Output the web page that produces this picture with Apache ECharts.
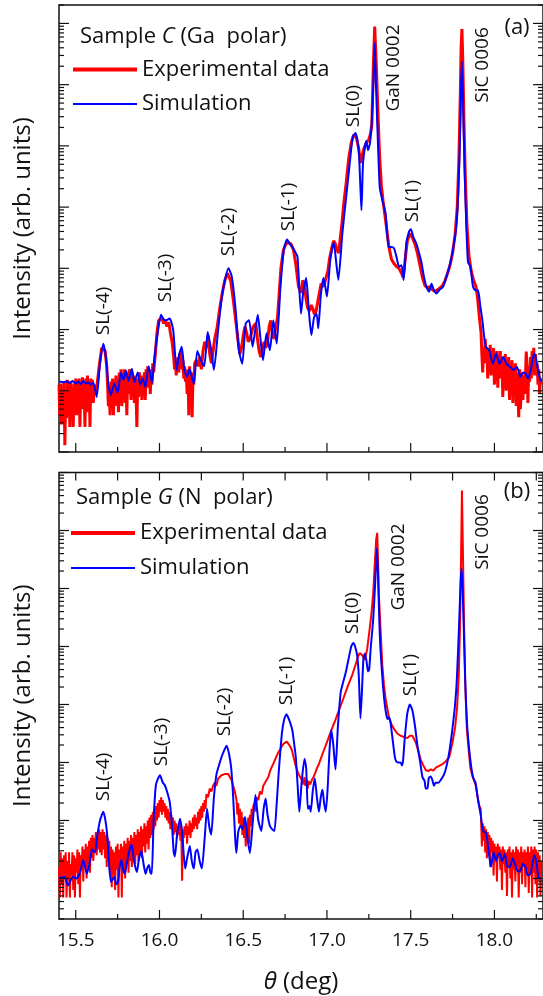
<!DOCTYPE html>
<html><head><meta charset="utf-8">
<script src="https://cdn.jsdelivr.net/npm/echarts@6/dist/echarts.min.js"></script>
<style>html,body{margin:0;padding:0;background:#fff}#c{width:543px;height:996px}</style>
</head><body><div id="c"></div>
<script>
// ---------------- DATA ----------------
// x tick labels (theta, deg)
const xTickLabels = [15.5, 16.0, 16.5, 17.0, 17.5, 18.0];
const seriesNames = ['Experimental data', 'Simulation'];
// each point: [theta (deg), log10(intensity, arb. units)]
// Panel (a): sample C (Ga polar)
const expA = [[15.400,1.10],[15.405,0.60],[15.41,1.12],[15.415,0.45],[15.42,1.00],[15.425,0.70],[15.43,1.15],[15.435,0.11],[15.44,0.95],[15.445,0.55],[15.45,1.18],[15.455,0.80],[15.46,1.05],[15.465,0.41],[15.47,1.15],[15.475,0.75],[15.48,1.00],[15.485,0.41],[15.49,1.12],[15.495,0.90],[15.50,1.20],[15.505,0.60],[15.51,1.05],[15.515,0.95],[15.52,1.20],[15.525,0.41],[15.53,1.10],[15.535,0.85],[15.54,1.22],[15.545,0.70],[15.55,1.05],[15.555,0.41],[15.56,1.20],[15.565,0.90],[15.57,1.25],[15.575,0.65],[15.58,1.15],[15.585,0.41],[15.59,1.20],[15.595,0.95],[15.60,1.18],[15.605,0.80],[15.61,1.10],[15.615,0.95],[15.625,1.05],[15.64,1.40],[15.655,1.70],[15.665,1.72],[15.675,1.65],[15.685,1.40],[15.69,1.10],[15.695,0.75],[15.70,1.00],[15.705,0.60],[15.71,1.15],[15.715,0.85],[15.72,1.20],[15.725,0.60],[15.73,1.10],[15.735,0.75],[15.74,1.25],[15.745,0.85],[15.75,1.15],[15.755,0.65],[15.76,1.30],[15.765,0.90],[15.77,1.35],[15.775,0.75],[15.78,1.20],[15.785,0.95],[15.79,1.35],[15.795,0.80],[15.80,1.25],[15.805,0.60],[15.81,1.30],[15.815,0.95],[15.82,1.35],[15.825,1.30],[15.83,0.85],[15.835,1.30],[15.84,1.00],[15.845,1.25],[15.85,0.80],[15.855,1.20],[15.86,0.95],[15.865,0.41],[15.87,1.20],[15.875,0.90],[15.88,1.30],[15.885,0.95],[15.89,1.25],[15.895,0.85],[15.90,1.20],[15.905,1.00],[15.91,1.30],[15.915,0.85],[15.92,1.35],[15.925,1.05],[15.93,1.40],[15.935,1.10],[15.94,1.35],[15.945,0.95],[15.95,1.30],[15.955,1.10],[15.96,1.45],[15.965,1.30],[15.975,1.60],[15.985,1.95],[15.995,2.15],[16.005,2.12],[16.015,2.18],[16.025,2.10],[16.035,2.15],[16.045,2.05],[16.055,2.12],[16.065,1.95],[16.075,1.80],[16.085,1.55],[16.09,1.35],[16.095,1.50],[16.10,1.25],[16.105,1.45],[16.11,1.55],[16.115,1.30],[16.12,1.60],[16.125,1.45],[16.13,1.65],[16.135,1.35],[16.14,1.50],[16.145,1.20],[16.15,1.40],[16.155,1.15],[16.16,1.30],[16.165,0.95],[16.17,1.35],[16.175,0.60],[16.18,1.40],[16.185,0.85],[16.19,1.30],[16.195,0.57],[16.20,1.25],[16.205,1.10],[16.21,1.45],[16.22,1.50],[16.23,1.40],[16.24,1.55],[16.25,1.35],[16.26,1.65],[16.27,1.80],[16.28,1.70],[16.29,1.90],[16.30,1.60],[16.31,1.45],[16.32,1.65],[16.33,1.85],[16.345,2.05],[16.36,2.35],[16.375,2.60],[16.39,2.80],[16.405,2.92],[16.415,2.92],[16.425,2.80],[16.44,2.50],[16.455,2.15],[16.47,1.80],[16.48,1.60],[16.49,1.70],[16.50,1.90],[16.51,2.05],[16.52,1.95],[16.53,1.80],[16.54,1.85],[16.55,1.95],[16.56,2.05],[16.575,2.10],[16.585,1.85],[16.595,1.65],[16.605,1.55],[16.615,1.70],[16.625,1.80],[16.635,1.70],[16.645,1.80],[16.655,2.05],[16.665,2.15],[16.675,1.90],[16.685,1.85],[16.695,2.05],[16.705,2.20],[16.715,2.60],[16.725,3.00],[16.74,3.30],[16.755,3.40],[16.77,3.42],[16.785,3.40],[16.80,3.30],[16.815,3.05],[16.83,2.70],[16.845,2.60],[16.855,2.80],[16.865,2.75],[16.875,2.50],[16.885,2.35],[16.895,2.30],[16.905,2.40],[16.915,2.35],[16.925,2.25],[16.935,2.30],[16.945,2.45],[16.955,2.60],[16.965,2.75],[16.975,2.70],[16.985,2.75],[16.995,2.85],[17.005,2.95],[17.015,3.15],[17.03,3.35],[17.04,3.45],[17.05,3.40],[17.06,3.30],[17.07,3.25],[17.08,3.50],[17.09,3.75],[17.10,4.05],[17.115,4.40],[17.13,4.80],[17.145,5.05],[17.16,5.18],[17.175,5.15],[17.19,4.95],[17.20,4.72],[17.21,4.75],[17.22,4.95],[17.235,5.05],[17.25,5.10],[17.26,5.20],[17.268,5.35],[17.277,6.30],[17.285,6.95],[17.295,6.30],[17.305,5.50],[17.315,4.80],[17.325,4.35],[17.335,4.10],[17.355,3.68],[17.37,3.35],[17.385,3.15],[17.40,3.08],[17.415,3.03],[17.43,3.00],[17.445,2.92],[17.455,2.85],[17.465,3.10],[17.48,3.45],[17.495,3.57],[17.51,3.50],[17.525,3.40],[17.54,3.25],[17.555,3.05],[17.57,2.85],[17.585,2.72],[17.60,2.68],[17.615,2.70],[17.63,2.65],[17.645,2.62],[17.66,2.65],[17.675,2.68],[17.69,2.72],[17.705,2.80],[17.72,2.92],[17.735,3.05],[17.75,3.25],[17.765,3.55],[17.778,4.00],[17.788,4.80],[17.796,5.80],[17.801,6.60],[17.806,6.91],[17.811,6.40],[17.818,5.40],[17.826,4.50],[17.836,3.70],[17.848,3.20],[17.862,2.95],[17.876,2.80],[17.89,2.70],[17.90,2.50],[17.91,2.20],[17.92,1.95],[17.925,1.60],[17.93,1.30],[17.935,1.70],[17.94,1.45],[17.945,1.85],[17.95,1.50],[17.955,1.70],[17.96,1.20],[17.965,1.65],[17.97,1.35],[17.975,1.75],[17.98,1.25],[17.985,1.60],[17.99,1.40],[17.995,1.70],[18.00,1.10],[18.005,1.55],[18.01,1.30],[18.015,1.65],[18.02,1.05],[18.025,1.50],[18.03,1.35],[18.035,1.65],[18.04,1.20],[18.045,1.55],[18.05,0.90],[18.055,1.50],[18.06,1.25],[18.065,1.60],[18.07,1.00],[18.075,1.45],[18.08,1.20],[18.085,1.55],[18.09,0.85],[18.095,1.40],[18.10,1.15],[18.105,1.50],[18.11,0.80],[18.115,1.35],[18.12,1.10],[18.125,1.45],[18.13,0.75],[18.135,1.30],[18.14,1.05],[18.145,0.57],[18.15,1.35],[18.155,0.70],[18.16,1.00],[18.165,1.30],[18.17,0.85],[18.175,1.25],[18.18,0.95],[18.185,1.20],[18.19,1.64],[18.195,1.35],[18.20,0.80],[18.205,1.40],[18.21,1.15],[18.215,1.55],[18.22,1.20],[18.225,1.65],[18.23,1.30],[18.235,1.70],[18.24,1.25],[18.245,1.60],[18.25,1.30],[18.255,1.45],[18.26,1.10],[18.265,1.35],[18.27,0.95],[18.275,1.20],[18.28,1.10]];
const simA = [[15.403,1.15],[15.425,1.14],[15.445,1.15],[15.465,1.13],[15.48,1.16],[15.50,1.12],[15.515,1.15],[15.53,1.11],[15.545,1.16],[15.56,1.12],[15.575,1.14],[15.59,1.10],[15.605,1.13],[15.625,0.90],[15.645,1.45],[15.665,1.77],[15.68,1.55],[15.695,1.10],[15.71,0.93],[15.73,1.12],[15.75,0.97],[15.77,1.30],[15.785,1.18],[15.80,1.33],[15.815,1.16],[15.835,1.36],[15.85,1.14],[15.87,1.30],[15.885,1.10],[15.90,1.20],[15.915,1.06],[15.935,1.40],[15.955,1.13],[15.97,1.55],[15.989,1.94],[16.009,2.24],[16.025,2.17],[16.040,2.15],[16.061,2.18],[16.082,1.99],[16.102,1.34],[16.118,1.60],[16.133,1.72],[16.148,1.35],[16.164,1.23],[16.18,1.35],[16.195,1.20],[16.205,1.12],[16.226,1.65],[16.247,1.50],[16.267,1.40],[16.288,1.96],[16.309,1.66],[16.325,1.34],[16.350,1.99],[16.370,2.48],[16.391,2.81],[16.412,3.00],[16.432,2.86],[16.453,2.37],[16.474,1.66],[16.494,1.44],[16.515,2.10],[16.535,2.15],[16.556,1.72],[16.572,2.00],[16.587,2.24],[16.603,1.85],[16.618,1.50],[16.639,1.94],[16.659,1.66],[16.680,2.15],[16.700,1.77],[16.721,2.64],[16.742,3.30],[16.762,3.47],[16.778,3.40],[16.793,3.35],[16.808,3.28],[16.824,3.19],[16.845,2.26],[16.860,2.65],[16.876,2.84],[16.892,2.30],[16.907,1.91],[16.923,2.20],[16.938,2.26],[16.948,2.02],[16.963,2.55],[16.979,2.84],[16.990,2.70],[17.000,2.54],[17.020,3.14],[17.041,3.42],[17.055,3.10],[17.068,2.81],[17.092,3.57],[17.113,4.12],[17.134,4.66],[17.154,5.15],[17.171,5.21],[17.181,5.10],[17.191,4.88],[17.200,4.30],[17.206,3.95],[17.215,4.70],[17.227,4.99],[17.235,5.08],[17.245,4.93],[17.257,5.05],[17.268,5.40],[17.278,6.10],[17.285,6.68],[17.292,6.05],[17.300,5.40],[17.315,4.33],[17.330,4.12],[17.350,3.90],[17.368,3.35],[17.385,3.35],[17.400,3.33],[17.415,3.19],[17.430,3.03],[17.445,3.05],[17.458,2.81],[17.474,3.41],[17.490,3.60],[17.501,3.64],[17.515,3.52],[17.534,3.40],[17.550,3.25],[17.564,3.10],[17.580,2.85],[17.594,2.70],[17.610,2.62],[17.624,2.75],[17.638,2.65],[17.654,2.59],[17.672,2.65],[17.693,2.70],[17.712,2.85],[17.733,3.05],[17.752,3.30],[17.773,3.70],[17.785,4.30],[17.795,5.20],[17.801,6.00],[17.806,6.38],[17.812,5.80],[17.822,4.60],[17.832,3.70],[17.842,3.10],[17.856,3.03],[17.872,2.70],[17.887,2.64],[17.902,2.64],[17.915,2.40],[17.928,2.15],[17.940,1.85],[17.948,1.72],[17.969,1.66],[17.990,1.44],[18.010,1.61],[18.031,1.44],[18.052,1.55],[18.072,1.44],[18.093,1.39],[18.113,1.34],[18.134,1.39],[18.155,1.23],[18.170,1.30],[18.186,1.28],[18.200,1.20],[18.217,1.34],[18.237,1.61],[18.250,1.50],[18.262,1.30],[18.278,1.15]];
// Panel (b): sample G (N polar)
const expB = [[15.400,1.20],[15.405,0.67],[15.41,1.45],[15.415,0.90],[15.42,1.35],[15.425,0.67],[15.43,1.40],[15.435,1.00],[15.44,1.45],[15.445,0.67],[15.45,1.30],[15.455,0.95],[15.46,1.45],[15.465,0.67],[15.47,1.25],[15.475,1.05],[15.48,1.45],[15.485,0.80],[15.49,1.40],[15.495,0.67],[15.50,1.35],[15.505,1.10],[15.51,1.50],[15.515,0.90],[15.52,1.45],[15.525,0.67],[15.53,1.40],[15.535,1.15],[15.54,1.55],[15.545,0.95],[15.55,1.50],[15.555,1.20],[15.56,1.60],[15.565,1.00],[15.57,1.55],[15.575,1.25],[15.58,1.65],[15.585,1.10],[15.59,1.70],[15.595,1.35],[15.60,1.75],[15.605,1.30],[15.61,1.70],[15.615,1.45],[15.62,1.80],[15.625,1.40],[15.63,1.75],[15.635,1.50],[15.64,1.85],[15.645,1.45],[15.65,1.80],[15.655,1.40],[15.66,1.85],[15.665,1.50],[15.67,1.80],[15.675,1.35],[15.68,1.75],[15.685,1.20],[15.69,1.70],[15.695,1.30],[15.70,1.65],[15.705,1.10],[15.71,1.55],[15.715,0.85],[15.72,1.50],[15.725,1.05],[15.73,1.45],[15.735,0.80],[15.74,1.55],[15.745,1.15],[15.75,1.60],[15.755,0.67],[15.76,1.50],[15.765,1.20],[15.77,1.60],[15.775,0.67],[15.78,1.55],[15.785,1.15],[15.79,1.65],[15.795,1.00],[15.80,1.60],[15.805,1.25],[15.81,1.70],[15.815,1.10],[15.82,1.65],[15.825,1.30],[15.83,1.75],[15.835,1.20],[15.84,1.70],[15.845,1.35],[15.85,1.80],[15.855,1.25],[15.86,1.75],[15.865,1.40],[15.87,1.85],[15.875,1.30],[15.88,1.80],[15.885,1.45],[15.89,1.90],[15.895,1.35],[15.90,1.85],[15.905,1.55],[15.91,1.95],[15.915,1.45],[15.92,1.90],[15.925,1.60],[15.93,2.00],[15.935,1.50],[15.94,2.05],[15.945,1.70],[15.95,2.10],[15.955,1.75],[15.96,2.15],[15.965,1.85],[15.97,2.20],[15.975,1.90],[15.98,2.25],[15.985,2.00],[15.99,2.30],[15.995,2.05],[16.00,2.35],[16.005,2.15],[16.01,2.40],[16.015,2.10],[16.02,2.35],[16.025,2.15],[16.03,2.30],[16.035,2.05],[16.04,2.25],[16.045,2.00],[16.05,2.20],[16.055,1.95],[16.06,2.15],[16.065,1.85],[16.07,2.10],[16.075,1.90],[16.08,2.05],[16.085,1.75],[16.09,2.00],[16.095,1.80],[16.10,1.95],[16.105,1.70],[16.11,1.90],[16.115,1.75],[16.12,1.95],[16.125,1.65],[16.13,1.90],[16.135,0.96],[16.14,1.85],[16.145,1.70],[16.15,1.90],[16.155,1.75],[16.16,1.95],[16.165,1.60],[16.17,1.90],[16.175,1.75],[16.18,2.00],[16.185,1.70],[16.19,1.95],[16.195,1.80],[16.20,2.05],[16.205,1.85],[16.21,2.10],[16.215,1.90],[16.22,2.05],[16.225,1.85],[16.23,2.15],[16.235,1.95],[16.24,2.20],[16.245,2.00],[16.25,2.25],[16.255,2.05],[16.26,2.30],[16.265,2.15],[16.27,2.35],[16.275,2.20],[16.28,2.45],[16.29,2.40],[16.30,2.55],[16.31,2.50],[16.32,2.60],[16.33,2.65],[16.34,2.60],[16.35,2.72],[16.36,2.70],[16.37,2.78],[16.38,2.75],[16.39,2.80],[16.40,2.78],[16.41,2.80],[16.42,2.75],[16.43,2.70],[16.44,2.60],[16.45,2.50],[16.46,2.35],[16.465,2.10],[16.47,2.30],[16.475,1.95],[16.48,2.20],[16.485,1.90],[16.49,2.15],[16.495,1.75],[16.50,2.05],[16.505,1.70],[16.51,2.00],[16.515,1.55],[16.52,1.95],[16.525,1.75],[16.53,2.05],[16.535,1.60],[16.54,2.10],[16.545,1.90],[16.55,2.20],[16.555,2.00],[16.56,2.25],[16.57,2.30],[16.575,2.15],[16.58,2.40],[16.59,2.35],[16.60,2.50],[16.61,2.45],[16.62,2.60],[16.63,2.62],[16.64,2.70],[16.65,2.75],[16.66,2.85],[16.67,2.92],[16.68,2.98],[16.69,3.05],[16.70,3.08],[16.71,3.18],[16.72,3.22],[16.73,3.28],[16.74,3.32],[16.75,3.35],[16.76,3.36],[16.77,3.33],[16.78,3.28],[16.79,3.22],[16.80,3.10],[16.81,2.98],[16.82,2.88],[16.83,2.80],[16.84,2.75],[16.85,2.70],[16.86,2.62],[16.865,2.75],[16.87,2.60],[16.88,2.70],[16.885,2.55],[16.89,2.68],[16.90,2.62],[16.91,2.70],[16.92,2.75],[16.93,2.82],[16.94,2.90],[16.95,2.96],[16.97,3.12],[17.00,3.35],[17.025,3.55],[17.05,3.73],[17.075,3.93],[17.10,4.12],[17.125,4.32],[17.15,4.50],[17.17,4.68],[17.185,4.82],[17.196,4.89],[17.21,4.85],[17.226,4.77],[17.24,4.95],[17.252,5.23],[17.265,5.55],[17.276,5.92],[17.287,6.50],[17.294,6.85],[17.30,6.96],[17.305,6.50],[17.31,5.90],[17.32,5.30],[17.33,4.70],[17.34,4.35],[17.35,4.10],[17.37,3.78],[17.385,3.66],[17.40,3.58],[17.42,3.50],[17.44,3.46],[17.46,3.44],[17.48,3.42],[17.495,3.46],[17.51,3.46],[17.53,3.35],[17.545,3.20],[17.56,3.05],[17.575,2.95],[17.59,2.87],[17.605,2.85],[17.62,2.88],[17.635,2.86],[17.65,2.91],[17.67,2.94],[17.69,2.97],[17.71,3.02],[17.73,3.09],[17.75,3.35],[17.765,3.60],[17.777,3.95],[17.787,4.50],[17.795,5.40],[17.801,6.60],[17.806,7.69],[17.811,6.80],[17.818,5.50],[17.825,4.40],[17.835,3.60],[17.845,3.25],[17.856,2.91],[17.87,2.75],[17.887,2.62],[17.90,2.40],[17.91,2.25],[17.918,2.20],[17.925,1.55],[17.93,1.95],[17.935,1.65],[17.94,1.90],[17.945,1.45],[17.95,1.85],[17.955,1.35],[17.96,1.80],[17.965,1.55],[17.97,1.75],[17.975,1.20],[17.98,1.70],[17.985,1.45],[17.99,1.65],[17.995,1.05],[18.00,1.60],[18.005,1.30],[18.01,1.55],[18.015,0.95],[18.02,1.60],[18.025,1.35],[18.03,1.55],[18.035,1.15],[18.04,1.50],[18.045,0.80],[18.05,1.55],[18.055,1.25],[18.06,1.50],[18.065,1.10],[18.07,1.45],[18.075,0.70],[18.08,1.50],[18.085,1.20],[18.09,1.55],[18.095,1.00],[18.10,1.45],[18.105,0.67],[18.11,1.50],[18.115,1.15],[18.12,1.45],[18.125,0.95],[18.13,1.55],[18.135,1.20],[18.14,1.50],[18.145,0.67],[18.15,1.45],[18.155,1.10],[18.16,1.55],[18.165,0.90],[18.17,1.45],[18.175,1.20],[18.18,1.50],[18.185,0.85],[18.19,1.45],[18.195,1.15],[18.20,1.55],[18.205,0.75],[18.21,1.45],[18.215,1.05],[18.22,1.55],[18.225,0.67],[18.23,1.50],[18.235,1.10],[18.24,1.55],[18.245,0.90],[18.25,1.50],[18.255,0.67],[18.26,1.45],[18.265,1.05],[18.27,1.40],[18.275,0.70],[18.28,1.30]];
const simB = [[15.403,1.00],[15.432,1.03],[15.453,0.88],[15.483,1.03],[15.504,1.00],[15.525,1.10],[15.545,1.32],[15.566,1.08],[15.585,1.30],[15.597,1.50],[15.615,1.45],[15.628,1.73],[15.645,2.00],[15.665,2.15],[15.68,1.95],[15.69,1.67],[15.70,1.20],[15.71,0.94],[15.72,0.98],[15.731,1.03],[15.742,0.90],[15.752,0.94],[15.762,1.20],[15.772,1.32],[15.783,1.15],[15.793,1.08],[15.81,1.35],[15.822,1.50],[15.834,1.58],[15.848,1.30],[15.865,1.11],[15.878,1.35],[15.892,1.47],[15.905,1.25],[15.917,1.08],[15.927,1.18],[15.937,1.23],[15.946,1.10],[15.954,1.08],[15.965,2.00],[15.979,2.62],[16.003,2.78],[16.02,2.65],[16.03,2.62],[16.045,2.50],[16.061,2.32],[16.075,1.90],[16.085,1.45],[16.092,1.38],[16.105,1.75],[16.123,2.03],[16.135,1.80],[16.145,1.40],[16.154,1.17],[16.165,1.35],[16.181,1.56],[16.193,1.30],[16.205,1.17],[16.215,1.45],[16.226,1.50],[16.24,1.30],[16.253,1.17],[16.27,1.70],[16.284,2.20],[16.297,1.90],[16.309,1.76],[16.325,2.40],[16.340,2.79],[16.355,2.95],[16.370,3.09],[16.385,3.20],[16.401,3.29],[16.415,3.15],[16.428,2.91],[16.44,2.40],[16.452,1.70],[16.459,1.44],[16.47,1.80],[16.484,1.91],[16.497,1.85],[16.511,2.06],[16.525,1.70],[16.540,1.44],[16.555,1.90],[16.573,2.44],[16.59,2.00],[16.608,1.82],[16.622,2.20],[16.634,2.38],[16.645,2.10],[16.659,1.91],[16.672,1.85],[16.686,1.82],[16.70,2.30],[16.711,2.79],[16.731,3.50],[16.745,3.75],[16.758,3.83],[16.775,3.73],[16.793,3.56],[16.805,3.30],[16.814,3.09],[16.825,2.60],[16.835,2.15],[16.85,2.70],[16.866,3.06],[16.876,2.90],[16.886,2.20],[16.896,2.25],[16.903,2.15],[16.915,2.50],[16.927,2.73],[16.94,2.40],[16.952,2.15],[16.963,2.40],[16.973,2.53],[16.983,2.30],[16.993,2.15],[17.005,2.60],[17.015,3.20],[17.026,3.56],[17.038,3.30],[17.051,2.88],[17.065,3.60],[17.082,4.21],[17.098,4.40],[17.113,4.56],[17.13,4.80],[17.145,5.00],[17.157,5.06],[17.168,5.00],[17.18,4.85],[17.19,4.50],[17.200,3.76],[17.21,4.30],[17.218,4.80],[17.226,4.88],[17.236,4.75],[17.245,4.57],[17.252,4.60],[17.262,5.00],[17.276,5.46],[17.288,6.10],[17.298,6.69],[17.305,6.20],[17.312,5.50],[17.319,4.98],[17.335,4.30],[17.350,3.90],[17.362,3.75],[17.371,3.78],[17.380,3.68],[17.392,3.40],[17.405,3.10],[17.412,3.03],[17.425,3.00],[17.439,3.00],[17.448,2.95],[17.455,3.05],[17.464,3.40],[17.48,3.85],[17.495,4.00],[17.51,3.90],[17.526,3.62],[17.54,3.30],[17.557,3.00],[17.57,2.75],[17.583,2.68],[17.59,2.55],[17.60,2.55],[17.608,2.73],[17.62,2.76],[17.629,2.70],[17.639,2.60],[17.649,2.65],[17.665,2.65],[17.680,2.70],[17.70,2.80],[17.715,2.95],[17.732,3.21],[17.75,3.60],[17.765,4.00],[17.775,4.40],[17.788,5.30],[17.798,6.10],[17.804,6.35],[17.81,6.00],[17.818,5.20],[17.827,4.30],[17.838,3.60],[17.856,3.05],[17.872,2.75],[17.887,2.65],[17.902,2.35],[17.918,2.10],[17.935,1.80],[17.948,1.80],[17.962,1.55],[17.979,1.20],[17.995,1.45],[18.010,1.30],[18.02,1.40],[18.031,1.44],[18.045,1.30],[18.062,1.42],[18.078,1.20],[18.093,1.20],[18.108,1.35],[18.124,1.24],[18.14,1.12],[18.155,1.14],[18.17,1.25],[18.186,1.20],[18.20,1.05],[18.217,1.10],[18.237,1.40],[18.25,1.30],[18.265,1.00],[18.278,1.00]];

// ---------------- LAYOUT / STYLE ----------------
const X_MIN = 15.4, X_MAX = 18.29;
const Y_A = [1, 2e7], Y_B = [2, 1e8];
const FONT = "'Open Sans', 'Noto Sans', sans-serif";
const INK = '#111';
const RED = '#ff0000', BLUE = '#0000ff';
const toPts = arr => arr.map(p => [p[0], Math.pow(10, p[1])]);

function tickData(yr, topTicks) {
  const d = [];
  const k0 = Math.floor(Math.log10(yr[0])), k1 = Math.ceil(Math.log10(yr[1]));
  for (let k = k0; k <= k1; k++) for (let m = 1; m <= 9; m++) {
    const v = m * Math.pow(10, k);
    if (v < yr[0] * 0.999 || v > yr[1] * 1.001) continue;
    const L = m === 1 ? 10 : 5;
    d.push([X_MIN, v, L, 0]); d.push([X_MAX, v, -L, 0]);
  }
  xTickLabels.forEach(v => {
    d.push([v, yr[0], 0, -9]);
    if (v + 0.25 < X_MAX) d.push([v + 0.25, yr[0], 0, -5]);
    if (topTicks) { d.push([v, yr[1], 0, 8]); if (v + 0.25 < X_MAX) d.push([v + 0.25, yr[1], 0, 8]); }
  });
  return d;
}
const tickSeries = (gi, yr, top) => ({
  type: 'custom', xAxisIndex: gi, yAxisIndex: gi, silent: true, clip: false, z: 5,
  data: tickData(yr, top), encode: {x: 0, y: 1},
  renderItem: (p, api) => {
    const c = api.coord([api.value(0), api.value(1)]);
    return {type: 'line', shape: {x1: c[0], y1: c[1], x2: c[0] + api.value(2), y2: c[1] + api.value(3)},
      style: {stroke: INK, lineWidth: 1.2}};
  }
});

const rotLabels = [
  ['SL(-4)', 104, 311], ['SL(-3)', 166, 278], ['SL(-2)', 229, 232], ['SL(-1)', 289, 207],
  ['SL(0)', 354, 106], ['GaN 0002', 394, 68], ['SL(1)', 413, 201], ['SiC 0006', 483, 65],
  ['SL(-4)', 104, 777], ['SL(-3)', 162, 742], ['SL(-2)', 225, 712], ['SL(-1)', 287, 681],
  ['SL(0)', 352.5, 613], ['GaN 0002', 399, 567], ['SL(1)', 411, 675], ['SiC 0006', 483, 532]
];
const graphics = rotLabels.map(r => ({type: 'text', x: r[1], y: r[2], rotation: Math.PI / 2, silent: true,
  style: {text: r[0], fontSize: 19, fontFamily: FONT, fill: INK, align: 'center', verticalAlign: 'middle'}}));
const richI = {i: {fontStyle: 'italic', fontSize: 22, fontFamily: FONT, fill: INK, color: INK}};
graphics.push({type: 'text', x: 80, y: 37, silent: true, style: {text: 'Sample {i|C} (Ga  polar)', rich: richI, fontSize: 22, fontFamily: FONT, fill: INK, verticalAlign: 'middle'}});
graphics.push({type: 'text', x: 76, y: 498, silent: true, style: {text: 'Sample {i|G} (N  polar)', rich: richI, fontSize: 22, fontFamily: FONT, fill: INK, verticalAlign: 'middle'}});
graphics.push({type: 'text', x: 517, y: 28, silent: true, style: {text: '(a)', fontSize: 22, fontFamily: FONT, fill: INK, align: 'center', verticalAlign: 'middle'}});
graphics.push({type: 'text', x: 517, y: 492, silent: true, style: {text: '(b)', fontSize: 22, fontFamily: FONT, fill: INK, align: 'center', verticalAlign: 'middle'}});

// one legend per entry so each icon gets its own line thickness
const legendItem = (name, color, thick, left, centerY) => ({
  left: left, top: centerY - 11, padding: 0, orient: 'vertical', itemWidth: 64, itemHeight: thick,
  selectedMode: false, icon: 'rect', itemStyle: {color: color},
  data: [{name: name, icon: 'rect', itemStyle: {color: color}}],
  textStyle: {fontSize: 22, fontFamily: FONT, color: INK, lineHeight: 22}
});

const axisBase = {splitLine: {show: false}, axisTick: {show: false}, axisLine: {show: false}};
const chart = echarts.init(document.getElementById('c'), null, {renderer: 'canvas'});
chart.setOption({
  animation: false,
  backgroundColor: '#fff',
  grid: [
    {left: 59, top: 5, width: 484, height: 447, show: true, borderColor: INK, borderWidth: 1.5, backgroundColor: 'transparent'},
    {left: 59, top: 472.5, width: 484, height: 446.5, show: true, borderColor: INK, borderWidth: 1.5, backgroundColor: 'transparent'}
  ],
  xAxis: [
    Object.assign({type: 'value', gridIndex: 0, min: X_MIN, max: X_MAX, axisLabel: {show: false}}, axisBase),
    Object.assign({type: 'value', gridIndex: 1, min: X_MIN, max: X_MAX,
      axisLabel: {customValues: xTickLabels, formatter: v => v.toFixed(1), fontSize: 19, fontFamily: FONT, color: INK, margin: 12},
      name: '{i|θ} (deg)', nameLocation: 'middle', nameGap: 51,
      nameTextStyle: {fontSize: 24, fontFamily: FONT, color: INK, rich: {i: {fontStyle: 'italic', fontSize: 24, fontFamily: FONT, color: INK}}}}, axisBase)
  ],
  yAxis: [
    Object.assign({type: 'log', gridIndex: 0, min: Y_A[0], max: Y_A[1], logBase: 10, axisLabel: {show: false},
      name: 'Intensity (arb. units)', nameLocation: 'middle', nameGap: 24, nameTextStyle: {fontSize: 24, fontFamily: FONT, color: INK}}, axisBase),
    Object.assign({type: 'log', gridIndex: 1, min: Y_B[0], max: Y_B[1], logBase: 10, axisLabel: {show: false},
      name: 'Intensity (arb. units)', nameLocation: 'middle', nameGap: 24, nameTextStyle: {fontSize: 24, fontFamily: FONT, color: INK}}, axisBase)
  ],
  legend: [
    legendItem(seriesNames[0], RED, 4, 73, 69.5),
    legendItem(seriesNames[1], BLUE, 2, 73, 104),
    legendItem(seriesNames[0], RED, 4, 71, 533),
    legendItem(seriesNames[1], BLUE, 2, 71, 568)
  ],
  series: [
    {name: seriesNames[0], type: 'line', xAxisIndex: 0, yAxisIndex: 0, data: toPts(expA), symbol: 'none', lineStyle: {color: RED, width: 3}, itemStyle: {color: RED}, z: 2},
    {name: seriesNames[1], type: 'line', xAxisIndex: 0, yAxisIndex: 0, data: toPts(simA), symbol: 'none', smooth: 0.2, lineStyle: {color: BLUE, width: 2}, itemStyle: {color: BLUE}, z: 3},
    {name: seriesNames[0], type: 'line', xAxisIndex: 1, yAxisIndex: 1, data: toPts(expB), symbol: 'none', lineStyle: {color: RED, width: 2}, itemStyle: {color: RED}, z: 2},
    {name: seriesNames[1], type: 'line', xAxisIndex: 1, yAxisIndex: 1, data: toPts(simB), symbol: 'none', smooth: 0.2, lineStyle: {color: BLUE, width: 2}, itemStyle: {color: BLUE}, z: 3},
    tickSeries(0, Y_A, false),
    tickSeries(1, Y_B, true)
  ],
  graphic: graphics
});
</script></body></html>
